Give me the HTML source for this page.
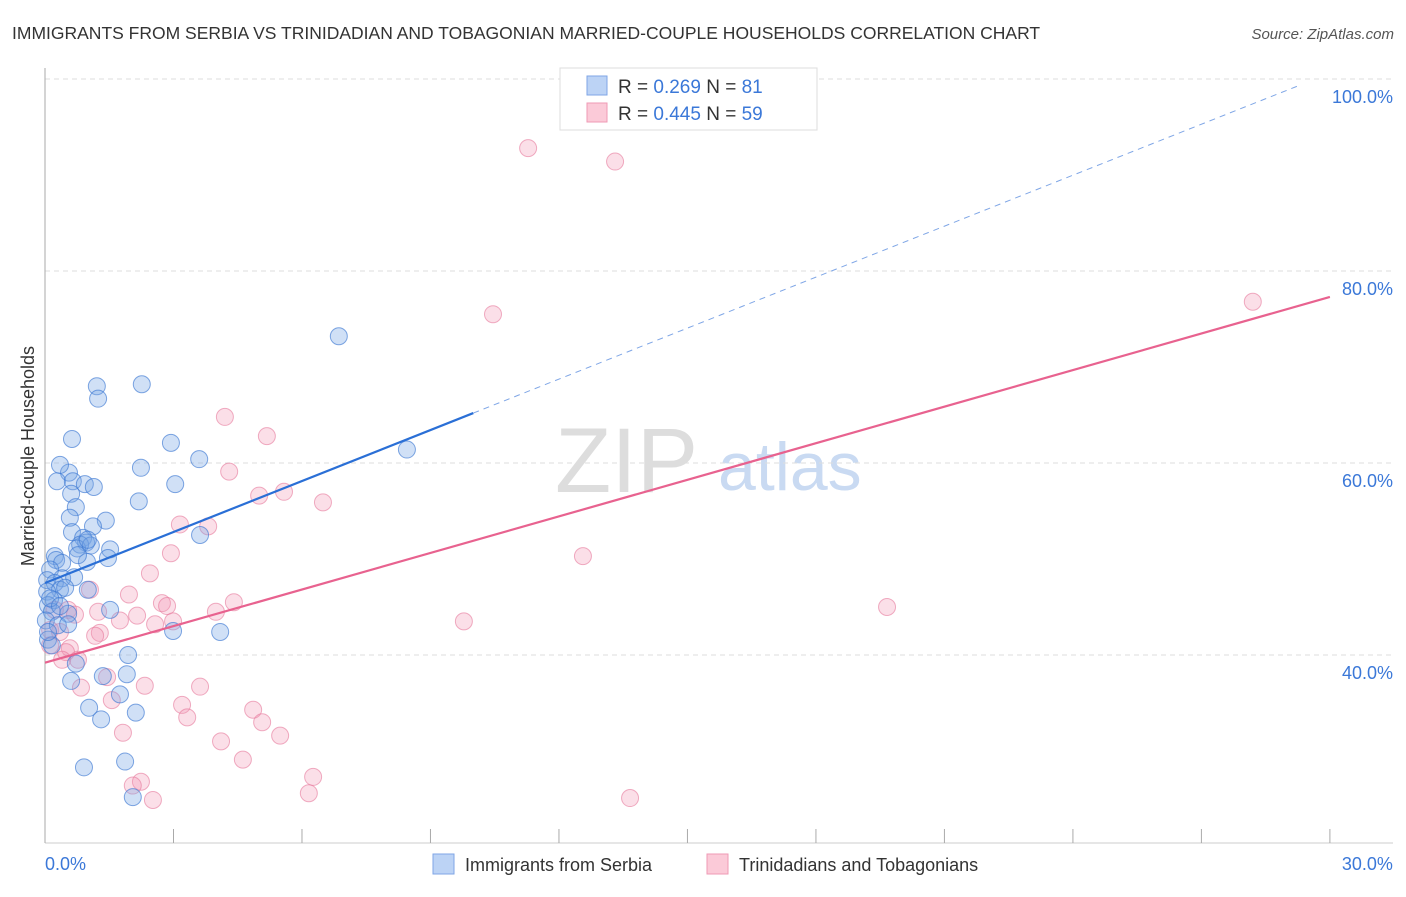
<!DOCTYPE html>
<html><head><meta charset="utf-8"><style>
body{margin:0;background:#fff;font-family:"Liberation Sans",sans-serif}
svg text{font-family:"Liberation Sans",sans-serif}
</style></head><body>
<svg id="chart" width="1406" height="892" xmlns="http://www.w3.org/2000/svg">
<text x="12" y="39" font-size="17.5" fill="#333">IMMIGRANTS FROM SERBIA VS TRINIDADIAN AND TOBAGONIAN MARRIED-COUPLE HOUSEHOLDS CORRELATION CHART</text>
<text x="1394" y="39" font-size="15" fill="#555" text-anchor="end" font-style="italic">Source: ZipAtlas.com</text>
<text x="555" y="492" font-size="92" fill="#ddd" font-family="Liberation Serif">ZIP</text>
<text x="718" y="490" font-size="68" fill="#c9daf2">atlas</text>
<g id="grid"></g><g id="axes"></g><g id="pink"></g><g id="blue"></g><g id="lines"></g>
<text transform="translate(34,456) rotate(-90)" font-size="18" fill="#333" text-anchor="middle">Married-couple Households</text>
<g>
<rect x="560" y="68" width="257" height="62" fill="#fff" stroke="#ddd"/>
<rect x="587" y="76" width="20" height="19" fill="#bcd3f5" stroke="#7fa6e6"/>
<rect x="587" y="103" width="20" height="19" fill="#fbcad8" stroke="#ef9ab5"/>
<text x="618" y="93" font-size="19" fill="#333">R = <tspan fill="#3b78d8">0.269</tspan>   N = <tspan fill="#3b78d8"> 81</tspan></text>
<text x="618" y="120" font-size="19" fill="#333">R = <tspan fill="#3b78d8">0.445</tspan>   N = <tspan fill="#3b78d8">59</tspan></text>
</g>
<g>
<rect x="433" y="854" width="21" height="20" fill="#bcd3f5" stroke="#7fa6e6"/>
<text x="465" y="871" font-size="18" fill="#333">Immigrants from Serbia</text>
<rect x="707" y="854" width="21" height="20" fill="#fbcad8" stroke="#ef9ab5"/>
<text x="739" y="871" font-size="18" fill="#333">Trinidadians and Tobagonians</text>
</g>
</svg>
<script>
const blueX=[6.86,2.26,1.21,1.24,0.63,2.94,3.60,8.45,2.24,0.56,0.28,0.65,0.93,1.14,3.04,0.61,2.19,0.72,0.58,1.42,1.12,0.63,0.89,0.96,0.82,1.52,0.75,0.23,0.26,1.07,1.47,0.98,3.62,0.40,0.12,0.05,0.40,0.68,0.23,0.35,1.00,0.05,0.21,0.07,0.16,0.54,1.52,0.02,0.30,0.54,2.99,4.09,0.07,0.16,1.94,0.72,1.91,0.61,1.35,1.75,1.03,2.12,1.31,1.87,0.91,2.05,0.12,0.35,0.07,0.47,1.00,0.77,0.35];
const blueY=[73.2,68.2,68.0,66.7,62.5,62.1,60.4,61.4,59.5,59.0,58.1,58.1,57.8,57.5,57.8,56.8,56.0,55.4,54.3,54.0,53.4,52.8,52.2,51.7,51.5,51.0,51.1,50.3,49.9,51.4,50.1,49.7,52.5,49.6,48.9,47.8,48.0,48.1,47.5,46.8,46.8,46.6,45.7,45.2,44.5,44.3,44.7,43.6,43.1,43.2,42.5,42.4,41.6,41.0,40.0,39.1,38.0,37.3,37.8,35.9,34.5,34.0,33.3,28.9,28.3,25.2,45.9,45.1,42.4,47.0,52.0,50.4,59.8];
const pinkX=[11.28,13.31,10.46,28.20,4.20,5.18,4.30,5.58,5.00,6.49,3.15,3.81,2.94,12.56,2.45,1.05,1.96,2.73,2.85,3.99,4.41,0.54,1.24,2.15,1.75,2.99,2.57,19.66,9.78,1.28,1.17,0.58,0.49,0.77,1.45,0.84,2.33,3.62,1.56,3.20,3.32,4.86,5.07,5.49,1.82,4.11,4.62,6.26,6.16,2.24,2.05,2.52,13.66,0.23,0.12,0.35,0.12,0.70,0.40];
const pinkY=[92.8,91.4,75.5,76.8,64.8,62.8,59.1,57.0,56.6,55.9,53.6,53.4,50.6,50.3,48.5,46.8,46.3,45.4,45.1,44.5,45.5,44.7,44.5,44.1,43.6,43.5,43.2,45.0,43.5,42.3,42.0,40.7,40.3,39.5,37.7,36.6,36.8,36.7,35.3,34.8,33.5,34.3,33.0,31.6,31.9,31.0,29.1,27.3,25.6,26.8,26.4,24.9,25.1,44.7,42.6,42.4,41.0,44.2,39.5];
const blueTrend=[47.5,65.2,10.0,29.3]; // y at x=0, y at x=10, solid end x, dashed end x
const pinkTrend=[39.2,77.3,30.0];       // y at x=0, y at x=30, end x
const yTicks=[100,80,60,40];
const yTickLabels=["100.0%","80.0%","60.0%","40.0%"];
const xTicks=[0,3,6,9,12,15,18,21,24,27,30];
const xLabels=[[0,"0.0%"],[30,"30.0%"]];
const NS="http://www.w3.org/2000/svg";
const X=v=>45+v*42.83, Y=v=>79+(100-v)*9.6;
function mk(parent,tag,attrs){const e=document.createElementNS(NS,tag);for(const k in attrs)e.setAttribute(k,attrs[k]);document.getElementById(parent).appendChild(e);return e;}
yTicks.forEach((t,i)=>{
 const g=mk('grid','line',{x1:45,x2:1393,y1:Y(t),y2:Y(t),stroke:'#ddd','stroke-dasharray':'5,4'});
 
 
 const l=mk('grid','text',{x:1393,y:Y(t)+24,'font-size':18,fill:'#3b78d8','text-anchor':'end'});
 l.textContent=yTickLabels[i];
 
 
});
const ax=mk('axes','line',{x1:45,x2:45,y1:68,y2:843,stroke:'#aaa'});


const bx=mk('axes','line',{x1:45,x2:1393,y1:843,y2:843,stroke:'#ccc'});


xTicks.forEach(t=>{
 const k=mk('axes','line',{x1:X(t),x2:X(t),y1:829,y2:843,stroke:'#aaa'});
 
 
});
xLabels.forEach(([v,s],i)=>{
 const l=mk('axes','text',{x:X(v)+(i==0?0:63),y:870,'font-size':18,fill:'#3b78d8','text-anchor':i==0?'start':'end'});
 l.textContent=s;
 
 
});
pinkX.forEach((x,i)=>{
 const c=mk('pink','circle',{cx:X(x),cy:Y(pinkY[i]),r:8.5,fill:'rgba(243,150,180,0.3)',stroke:'rgba(230,120,155,0.6)','stroke-width':1});
 
 
});
blueX.forEach((x,i)=>{
 const c=mk('blue','circle',{cx:X(x),cy:Y(blueY[i]),r:8.5,fill:'rgba(120,165,230,0.35)',stroke:'rgba(60,120,210,0.65)','stroke-width':1});
 
 
});
const bs=(blueTrend[1]-blueTrend[0])/10, by=x=>blueTrend[0]+bs*x;
const bl=mk('lines','line',{x1:X(0),y1:Y(by(0)),x2:X(blueTrend[2]),y2:Y(by(blueTrend[2])),stroke:'#2a6fd6','stroke-width':2.2});


const bd=mk('lines','line',{x1:X(blueTrend[2]),y1:Y(by(blueTrend[2])),x2:X(blueTrend[3]),y2:Y(by(blueTrend[3])),stroke:'#7fa6e6','stroke-width':1,'stroke-dasharray':'6,5'});


const ps=(pinkTrend[1]-pinkTrend[0])/30;
const pl=mk('lines','line',{x1:X(0),y1:Y(pinkTrend[0]),x2:X(pinkTrend[2]),y2:Y(pinkTrend[0]+ps*pinkTrend[2]),stroke:'#e8628f','stroke-width':2.2});


</script>
</body></html>
